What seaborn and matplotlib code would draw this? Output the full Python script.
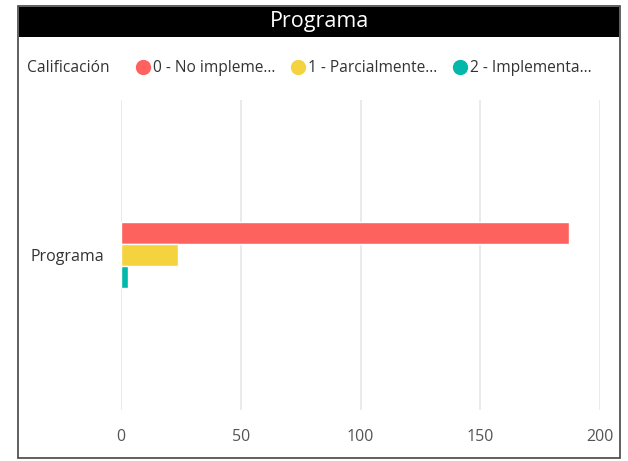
import matplotlib
matplotlib.use("Agg")
import matplotlib.pyplot as plt
import seaborn as sns
import pandas as pd
from matplotlib.lines import Line2D
from matplotlib.patches import Rectangle

categories = ["Programa"]
ratings = ["0 - No impleme...", "1 - Parcialmente...", "2 - Implementa..."]
values = [187, 24, 3]
colors = ["#FD625E", "#F5D33F", "#01B8AA"]
xticks = [0, 50, 100, 150, 200]

df = pd.DataFrame({"Categoria": categories * len(ratings),
                   "Calificación": ratings,
                   "Valor": values})

sns.set_theme(style="white")
plt.rcParams['font.family'] = ['Open Sans', 'DejaVu Sans']

fig = plt.figure(figsize=(6.28, 4.61), dpi=100)
W, H = 628, 461
ax = fig.add_axes([121 / W, 1 - 410 / H, (600 - 121) / W, (410 - 100) / H])

sns.barplot(data=df, y="Categoria", x="Valor", hue="Calificación",
            palette=colors, orient="h", width=0.216, ax=ax, legend=False,
            saturation=1)

ax.set_xlim(0, 200)
ax.set_ylim(0.5, -0.5)
ax.set_xticks(xticks)
ax.set_xticklabels([str(t) for t in xticks])
ax.xaxis.grid(True, color="#e6e6e6", linewidth=1.2)
ax.set_axisbelow(True)
for s in ax.spines.values():
    s.set_visible(False)
ax.set_xlabel("")
ax.set_ylabel("")
ax.tick_params(axis="x", colors="#555555", labelsize=11.5, length=0, pad=14)
ax.tick_params(axis="y", colors="#333333", labelsize=11.5, length=0, pad=12)

# frame border
fig.add_artist(Rectangle((18 / W, 1 - 458 / H), (620 - 18) / W, (458 - 6) / H,
                         transform=fig.transFigure, fill=False,
                         edgecolor="#444444", linewidth=1.2))
# title bar
fig.add_artist(Rectangle((19 / W, 1 - 37 / H), (619 - 19) / W, (37 - 7) / H,
                         transform=fig.transFigure, facecolor="black",
                         edgecolor="none"))
fig.text(320 / W, 1 - 22 / H, "Programa", color="white", fontsize=15.5,
         ha="center", va="center")

# legend
fig.text(27 / W, 1 - 68 / H, "Calificación", color="#333333", fontsize=11.2,
         ha="left", va="center")
handles = [Line2D([], [], marker="o", linestyle="none", markersize=10,
                  markerfacecolor=c, markeredgecolor=c) for c in colors]
fig.legend(handles, ratings, loc="center left",
           bbox_to_anchor=(120 / W, 1 - 68 / H), ncol=3, frameon=False,
           handletextpad=0.0, columnspacing=0.9, handlelength=1.2,
           prop={"size": 11.2}, labelcolor="#333333")

fig.savefig("out.png", dpi=100)
